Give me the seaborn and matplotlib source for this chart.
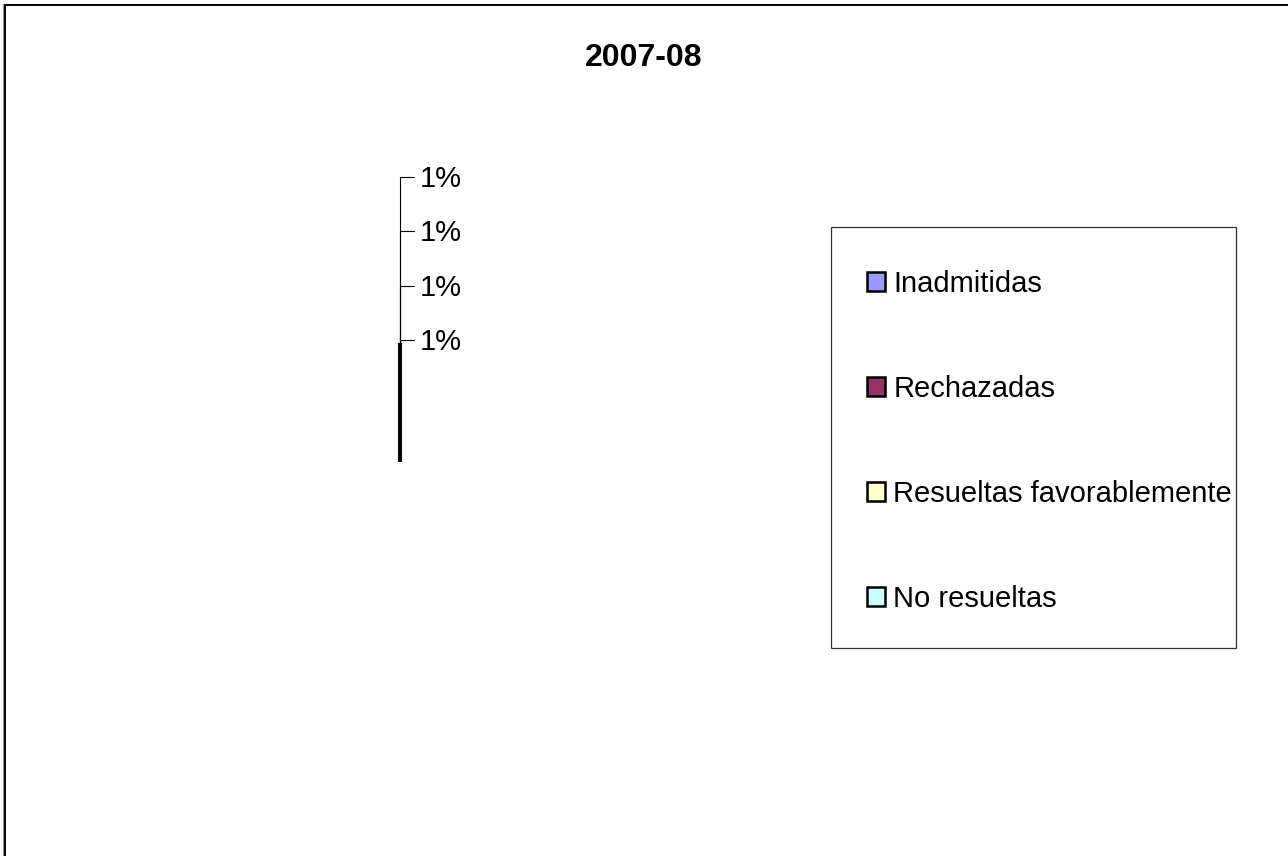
import numpy as np
import matplotlib
matplotlib.use("Agg")
import matplotlib.pyplot as plt
import seaborn as sns
from matplotlib.patches import Rectangle

# data
title = "2007-08"
categories = ["Inadmitidas", "Rechazadas", "Resueltas favorablemente", "No resueltas"]
values = [0, 0, 0, 0]
pct_labels = ["1%", "1%", "1%", "1%"]
colors = ["#9999FF", "#993366", "#FFFFCC", "#CCFFFF"]

sns.set_theme(style="white")
plt.rcParams["font.family"] = ["Liberation Sans", "DejaVu Sans"]
plt.rcParams["text.color"] = "black"

W, H = 1288, 856
fig = plt.figure(figsize=(W / 100, H / 100), dpi=100)
ax = fig.add_axes([0, 0, 1, 1])

# degenerate pie (all zero shares) -> collapses to a single radius line
cx, cy, r = 400, H - 462, 119
wedges, _ = ax.pie(values, colors=colors, startangle=90, counterclock=False,
                   normalize=False, radius=r, center=(cx, cy), frame=True,
                   wedgeprops=dict(edgecolor="black", linewidth=2.6))
ax.set_xlim(0, W)
ax.set_ylim(0, H)
ax.set_aspect("auto")
ax.axis("off")

# labels with leader lines stacked above the pie
top = cy + r
for i, lab in enumerate(pct_labels[::-1]):
    ly = top + 3 + i * 54.5
    ax.plot([cx, cx, cx + 14], [top, ly, ly], color="black", lw=0.8)
    ax.text(cx + 20, ly - 2, lab, fontsize=21, va="center", ha="left", color="black")

# title
fig.text(0.5, 1 - 58 / H, title, fontsize=23, fontweight="bold", ha="center",
         va="center", color="black")

# legend
leg = fig.legend(wedges, categories, loc="upper left",
                 bbox_to_anchor=(867 / W, 1 - 270 / H), frameon=False,
                 fontsize=21, labelspacing=2.64, handlelength=0.62, handleheight=0.62,
                 handletextpad=0.28, borderpad=0, borderaxespad=0,
                 labelcolor="black")
for h in leg.legend_handles:
    h.set_linewidth(1.8)
    h.set_edgecolor("black")
fig.patches.append(Rectangle((831 / W, 1 - 648 / H), 405 / W, 421 / H,
                             transform=fig.transFigure, fill=False,
                             edgecolor="#333333", lw=0.9))

# outer chart border (left and top only, as in the source)
ax.plot([3.5, 3.5], [0, H - 3.5], color="#999999", lw=0.8, clip_on=False)
ax.plot([3.5, W], [H - 3.5, H - 3.5], color="#999999", lw=0.8, clip_on=False)
ax.plot([5, 5], [0, H - 5], color="black", lw=1.4, clip_on=False)
ax.plot([5, W], [H - 5, H - 5], color="black", lw=1.4, clip_on=False)

fig.savefig("out.png", dpi=100, facecolor="white")
